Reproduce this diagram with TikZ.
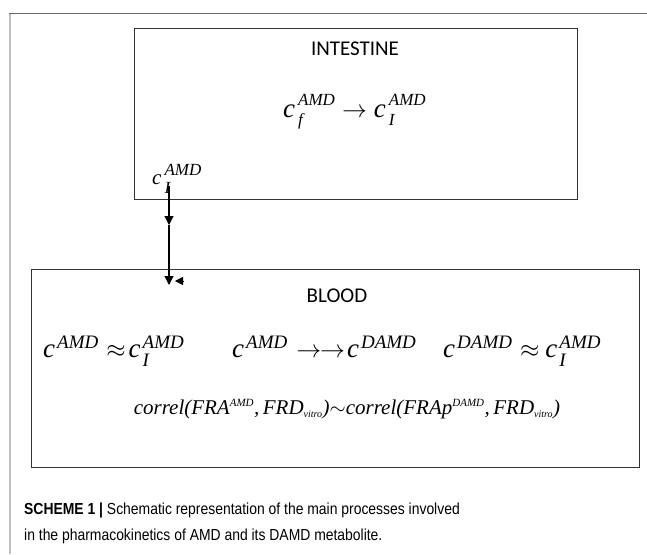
\documentclass[tikz,border=0pt]{standalone}
\usepackage{fontspec}
\setmainfont{Liberation Serif}
\newfontfamily\capfont[FakeStretch=0.87]{Liberation Sans}
\newfontfamily\labfont{Carlito}
\usetikzlibrary{arrows.meta}
\newlength\supr \newlength\subr \newlength\ckern
\def\scf{}
\newcommand\cset[4]{\setlength\supr{#1}\setlength\subr{#2}\setlength\ckern{#3}\def\scf{\fontsize{#4}{#4}\selectfont\itshape}}
\newcommand\cc[2]{{\itshape c}\kern\ckern\setbox0\hbox{\raisebox{\supr}{\scf #1}}\setbox2\hbox{\raisebox{-\subr}{\scf #2}}\ifdim\wd0>\wd2 \rlap{\box2}\box0 \else\rlap{\box0}\box2 \fi}
\newcommand\sv[2]{\hbox{\fontsize{#1}{#1}\selectfont\itshape #2}}
\begin{document}
\begin{tikzpicture}[x=1pt,y=-1pt,
  box/.style={draw=black!80,line width=0.9pt},
  lab/.style={font=\labfont\fontsize{21}{21}\selectfont},
  big/.style={font=\fontsize{27}{30}\selectfont,inner sep=0pt,anchor=base west},
  small/.style={font=\fontsize{21}{24}\selectfont,inner sep=0pt,anchor=base west},
  tip/.style={-{Triangle[length=9pt,width=9pt]}},
]
\useasboundingbox (0,0) rectangle (647,554);
\fill[black!25] (8.5,13) rectangle (11,554);
\draw[black!60,line width=1pt] (9,13) -- (647,13);
% boxes
\draw[box] (134,28) rectangle (577,199);
\draw[box] (31,269) rectangle (639,467);
\node[lab] (int) at (355,49) {INTESTINE};
\node[lab] (blood) at (337,296) {BLOOD};
% intestine equation
\node[big] (eqi) at (283,117) {\cset{12pt}{8pt}{3pt}{17}\cc{AMD}{f}\hspace{7pt}$\rightarrow$\hspace{7pt}\cc{AMD}{I}};
\node[small] (ci) at (152,184) {\cset{9pt}{9pt}{3pt}{17}\cc{AMD}{I}};
% blood equations
\node[big] (e1) at (43,357) {\cset{9pt}{9pt}{2pt}{19}\cc{AMD}{}\hspace{8pt}$\approx$\hspace{3pt}\cc{AMD}{I}};
\node[big] (e2) at (232,357) {\cset{9pt}{9pt}{2pt}{19}\cc{AMD}{}\hspace{9pt}$\rightarrow\kern-1pt\rightarrow$\hspace{2pt}\cc{DAMD}{}};
\node[big] (e3) at (443,357) {\cset{9pt}{9pt}{2pt}{19}\cc{DAMD}{}\hspace{8pt}$\approx$\hspace{6pt}\cc{AMD}{I}};
\node[font=\fontsize{21}{23}\selectfont\itshape,inner sep=0pt,anchor=base] (corr) at (347,414)
 {correl(FRA$^{\sv{11}{AMD}}$,\,FRD$_{\sv{10}{vitro}}$)$\sim$correl(FRAp$^{\sv{11}{DAMD}}$,\,FRD$_{\sv{10}{vitro}}$)};
% arrow
\coordinate (a0) at (169,186);
\coordinate (a1) at (169,225);
\coordinate (a2) at (169,285);
\coordinate (b0) at (184,281);
\coordinate (b1) at (175,281);
\draw[line width=1.1pt,tip] (a0) -- (a1);
\draw[line width=1.1pt,tip] (a1) -- (a2);
\draw[line width=0.5pt,-{Triangle[length=8pt,width=8pt]}] (b0) -- (b1);
% caption
\node[font=\capfont\fontsize{16}{26}\selectfont,anchor=north west,align=left,inner sep=0pt] (cap) at (24,503)
 {\textbf{SCHEME 1 |} Schematic representation of the main processes involved\\in the pharmacokinetics of AMD and its DAMD metabolite.};
\end{tikzpicture}
\end{document}
